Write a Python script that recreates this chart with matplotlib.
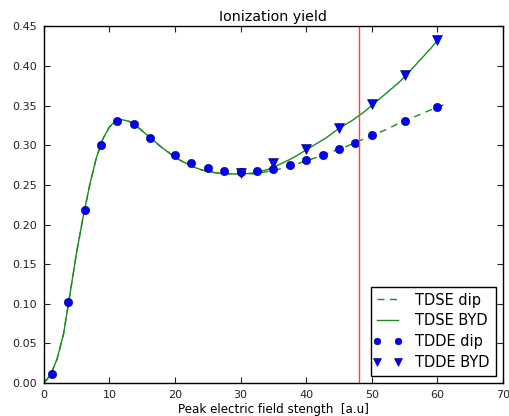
import matplotlib
matplotlib.use("Agg")
import matplotlib.pyplot as plt
from matplotlib.lines import Line2D
from matplotlib.legend_handler import HandlerLine2D

# TDSE BYD (solid) curve
x_byd = [0, 1, 1.5, 2, 3, 4, 5, 6, 7, 8, 9, 10, 11, 12, 13, 14, 15, 16, 17, 18, 19, 20,
         21, 22, 23, 24, 25, 26, 27, 28, 29, 30, 31, 32, 33, 34, 35, 36, 37, 38, 39, 40,
         41, 42, 43, 44, 45, 46, 47, 48, 49, 50, 51, 52, 53, 54, 55, 56, 57, 58, 59, 60]
y_byd = [0.0, 0.010, 0.020, 0.030, 0.062, 0.113, 0.165, 0.210, 0.250, 0.284, 0.308, 0.323,
         0.331, 0.332, 0.330, 0.325, 0.318, 0.311, 0.304, 0.297, 0.291, 0.285, 0.280, 0.276,
         0.272, 0.269, 0.267, 0.2655, 0.2645, 0.264, 0.2637, 0.2637, 0.2642, 0.265, 0.267,
         0.269, 0.272, 0.276, 0.280, 0.284, 0.289, 0.294, 0.299, 0.304, 0.309, 0.315, 0.321,
         0.326, 0.331, 0.337, 0.343, 0.350, 0.357, 0.364, 0.371, 0.378, 0.386, 0.395, 0.404,
         0.413, 0.422, 0.432]

# TDSE dip (dashed) curve
x_dip = [0, 1, 1.5, 2, 3, 4, 5, 6, 7, 8, 9, 10, 11, 12, 13, 14, 15, 16, 17, 18, 19, 20,
         21, 22, 23, 24, 25, 26, 27, 28, 30, 32, 34, 36, 38, 40, 42, 44, 46, 48, 50, 52,
         54, 56, 58, 60, 61]
y_dip = [0.0, 0.010, 0.020, 0.030, 0.062, 0.113, 0.165, 0.210, 0.250, 0.284, 0.308, 0.323,
         0.331, 0.332, 0.330, 0.325, 0.318, 0.311, 0.304, 0.297, 0.291, 0.285, 0.280, 0.276,
         0.272, 0.269, 0.267, 0.2655, 0.2645, 0.264, 0.2635, 0.264, 0.2665, 0.270, 0.275,
         0.280, 0.286, 0.292, 0.298, 0.305, 0.312, 0.319, 0.327, 0.334, 0.341, 0.348, 0.351]

# TDDE dip (circles)
x_tdde_dip = [1.3, 3.7, 6.2, 8.7, 11.2, 13.7, 16.2, 20, 22.5, 25, 27.5, 30, 32.5, 35,
              37.5, 40, 42.5, 45, 47.5, 50, 55, 60]
y_tdde_dip = [0.012, 0.102, 0.218, 0.300, 0.331, 0.327, 0.309, 0.287, 0.278, 0.271, 0.267,
              0.266, 0.267, 0.270, 0.275, 0.281, 0.288, 0.295, 0.303, 0.313, 0.330, 0.348]

# TDDE BYD (triangles)
x_tdde_byd = [30, 35, 40, 45, 50, 55, 60]
y_tdde_byd = [0.265, 0.277, 0.295, 0.322, 0.352, 0.388, 0.4325]

xticks = [0, 10, 20, 30, 40, 50, 60, 70]
yticks = [0.00, 0.05, 0.10, 0.15, 0.20, 0.25, 0.30, 0.35, 0.40, 0.45]
vline_x = 48

fig = plt.figure(figsize=(5.10, 4.16), dpi=100)
ax = fig.add_axes([0.086, 0.079, 0.900, 0.858])

green = (0.1, 0.55, 0.1)
ax.plot(x_dip, y_dip, linestyle='--', color=green, lw=1, label='TDSE dip', dashes=(5, 4))
ax.plot(x_byd, y_byd, linestyle='-', color=green, lw=1, label='TDSE BYD')
ax.plot(x_tdde_dip, y_tdde_dip, 'o', color='b', markersize=6, markeredgecolor='#000060',
        markeredgewidth=0.4, linestyle='none', label='TDDE dip')
ax.plot(x_tdde_byd, y_tdde_byd, 'v', color='b', markersize=7.5, markeredgecolor='#000060',
        markeredgewidth=0.4, linestyle='none', label='TDDE BYD')
ax.axvline(vline_x, color=(1, 0.25, 0.25), lw=1)

ax.set_xlim(0, 70)
ax.set_ylim(0, 0.45)
ax.set_xticks(xticks)
ax.set_yticks(yticks)
ax.set_xticklabels([str(t) for t in xticks])
ax.set_yticklabels(['%.2f' % t for t in yticks])
ax.tick_params(direction='in', top=True, right=True, length=4, labelsize=8, pad=5,
               colors='#222222')
for s in ax.spines.values():
    s.set_linewidth(1)
ax.set_title('Ionization yield', fontsize=10.3, pad=4)
ax.set_xlabel('Peak electric field stength  [a.u]', fontsize=8.6, labelpad=2)

leg = ax.legend(loc='lower right', numpoints=2, fontsize=10.5, fancybox=False,
                framealpha=1, edgecolor='k', borderaxespad=0.5, handlelength=1.45,
                handletextpad=1.2, markerscale=0.8, labelspacing=0.4, borderpad=0.4,
                handler_map={Line2D: HandlerLine2D(marker_pad=0, numpoints=2)})
leg.get_frame().set_linewidth(1)

fig.savefig('out.png', dpi=100)
